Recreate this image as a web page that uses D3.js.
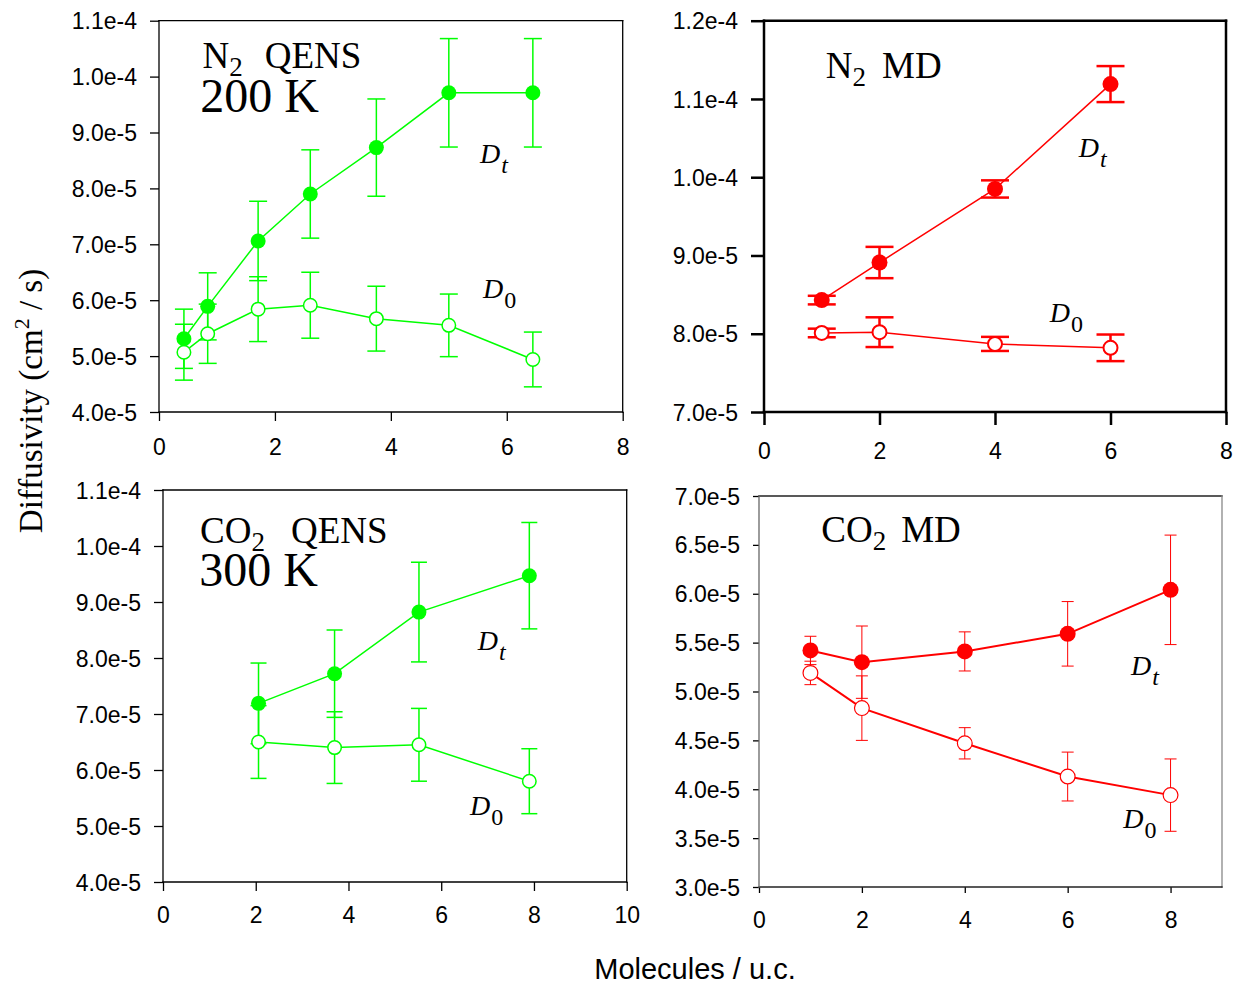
<!DOCTYPE html>
<html>
<head>
<meta charset="utf-8">
<script src="https://cdn.jsdelivr.net/npm/d3@7"></script>
<style>
  body { margin: 0; background: #fff; }
  svg { display: block; }
</style>
</head>
<body>
<div id="viz"></div>
<script>
// N2 QENS, 200 K
const n2QensLoading = [0.43, 0.84, 1.71, 2.61, 3.75, 5.00, 6.45];
const n2QensDt = [5.31e-5, 5.89e-5, 7.06e-5, 7.90e-5, 8.73e-5, 9.71e-5, 9.71e-5];
const n2QensDtErr = [0.53e-5, 0.60e-5, 0.71e-5, 0.79e-5, 0.87e-5, 0.97e-5, 0.97e-5];
const n2QensD0 = [5.07e-5, 5.40e-5, 5.84e-5, 5.91e-5, 5.67e-5, 5.55e-5, 4.94e-5];
const n2QensD0Err = [0.50e-5, 0.53e-5, 0.58e-5, 0.59e-5, 0.58e-5, 0.56e-5, 0.49e-5];

// N2 MD
const n2MdLoading = [1, 2, 4, 6];
const n2MdDt = [8.43e-5, 8.91e-5, 9.85e-5, 11.19e-5];
const n2MdDtErr = [0.055e-5, 0.20e-5, 0.11e-5, 0.23e-5];
const n2MdD0 = [8.01e-5, 8.02e-5, 7.87e-5, 7.82e-5];
const n2MdD0Err = [0.055e-5, 0.19e-5, 0.09e-5, 0.17e-5];

// CO2 QENS, 300 K
const co2QensLoading = [2.06, 3.70, 5.52, 7.90];
const co2QensDt = [7.19e-5, 7.72e-5, 8.82e-5, 9.47e-5];
const co2QensDtErr = [0.72e-5, 0.78e-5, 0.89e-5, 0.95e-5];
const co2QensD0 = [6.50e-5, 6.40e-5, 6.45e-5, 5.80e-5];
const co2QensD0Err = [0.65e-5, 0.64e-5, 0.65e-5, 0.58e-5];

// CO2 MD
const co2MdLoading = [1, 2, 4, 6, 8];
const co2MdDt = [5.42e-5, 5.30e-5, 5.41e-5, 5.59e-5, 6.04e-5];
const co2MdDtErr = [0.145e-5, 0.37e-5, 0.20e-5, 0.33e-5, 0.56e-5];
const co2MdD0 = [5.19e-5, 4.83e-5, 4.47e-5, 4.13e-5, 3.94e-5];
const co2MdD0Err = [0.12e-5, 0.33e-5, 0.16e-5, 0.25e-5, 0.37e-5];

// tick values
const loadingTicks8 = [0, 2, 4, 6, 8];
const loadingTicks10 = [0, 2, 4, 6, 8, 10];
const qensDiffTicks = [4e-5, 5e-5, 6e-5, 7e-5, 8e-5, 9e-5, 1.0e-4, 1.1e-4];
const n2MdDiffTicks = [7e-5, 8e-5, 9e-5, 1.0e-4, 1.1e-4, 1.2e-4];
const co2MdDiffTicks = [3.0e-5, 3.5e-5, 4.0e-5, 4.5e-5, 5.0e-5, 5.5e-5, 6.0e-5, 6.5e-5, 7.0e-5];

const canvasWidth = 1235;
const canvasHeight = 984;
const green = '#00ff00';
const red = '#ff0000';
const serif = "'Liberation Serif', 'Times New Roman', serif";
const sans = "'Liberation Sans', Arial, sans-serif";

const canvas = d3.select('#viz')
  .append('svg')
  .attr('width', canvasWidth)
  .attr('height', canvasHeight);

const zip = (xs, ys, es) => xs.map((x, i) => ({ x: x, y: ys[i], e: es[i] }));

const panels = [
  {
    left: 159, right: 622.7, top: 20.7, bottom: 412,
    xDomain: [0, 8], xTicks: loadingTicks8, yDomain: [4e-5, 1.1e-4], yTicks: qensDiffTicks,
    frameWidth: 1.3, frameColors: ['#000', '#000', '#000', '#000'],
    tickLen: 9, xPad: 18, color: green, lineWidth: 1.5, errWidth: 1.5, cap: 9, r: 7.5, openStroke: 1.5,
    dt: zip(n2QensLoading, n2QensDt, n2QensDtErr),
    d0: zip(n2QensLoading, n2QensD0, n2QensD0Err),
    title: { x: 0.75, y: 10.15e-5, main: 'N', sub: '2', rest: 'QENS', gap: 22 },
    temp: { x: 0.71, y: 9.37e-5, text: '200 K' },
    dtLabel: [5.54, 8.45e-5], d0Label: [5.59, 6.04e-5]
  },
  {
    left: 764, right: 1226, top: 20.7, bottom: 412,
    xDomain: [0, 8], xTicks: loadingTicks8, yDomain: [7e-5, 1.2e-4], yTicks: n2MdDiffTicks,
    frameWidth: 2.5, frameColors: ['#000', '#000', '#000', '#000'],
    tickLen: 13, xPad: 18, color: red, lineWidth: 1.5, errWidth: 2.5, cap: 14, r: 8, openStroke: 2,
    dt: zip(n2MdLoading, n2MdDt, n2MdDtErr),
    d0: zip(n2MdLoading, n2MdD0, n2MdD0Err),
    title: { x: 1.07, y: 11.27e-5, main: 'N', sub: '2', rest: 'MD', gap: 16 },
    dtLabel: [5.45, 10.26e-5], d0Label: [4.95, 8.15e-5]
  },
  {
    left: 163, right: 626.7, top: 490, bottom: 882,
    xDomain: [0, 10], xTicks: loadingTicks10, yDomain: [4e-5, 1.1e-4], yTicks: qensDiffTicks,
    frameWidth: 1.3, frameColors: ['#000', '#000', '#000', '#000'],
    tickLen: 9, xPad: 16, color: green, lineWidth: 1.5, errWidth: 1.5, cap: 8, r: 7.5, openStroke: 1.5,
    dt: zip(co2QensLoading, co2QensDt, co2QensDtErr),
    d0: zip(co2QensLoading, co2QensD0, co2QensD0Err),
    title: { x: 0.80, y: 10.05e-5, main: 'CO', sub: '2', rest: 'QENS', gap: 26 },
    temp: { x: 0.78, y: 9.29e-5, text: '300 K' },
    dtLabel: [6.79, 8.14e-5], d0Label: [6.62, 5.20e-5]
  },
  {
    left: 759, right: 1222, top: 496, bottom: 887,
    xDomain: [0, 9], xTicks: loadingTicks8, yDomain: [3e-5, 7e-5], yTicks: co2MdDiffTicks,
    frameWidth: 1.3, frameColors: ['#222', '#888', '#222', '#666'],
    tickLen: 6, xPad: 19, color: red, lineWidth: 2, errWidth: 1, cap: 6, r: 8, openStroke: 1.2,
    dt: zip(co2MdLoading, co2MdDt, co2MdDtErr),
    d0: zip(co2MdLoading, co2MdD0, co2MdD0Err),
    title: { x: 1.21, y: 6.53e-5, main: 'CO', sub: '2', rest: 'MD', gap: 15 },
    dtLabel: [7.23, 5.17e-5], d0Label: [7.08, 3.60e-5]
  }
];

function drawPanel(p) {
  const x = d3.scaleLinear().domain(p.xDomain).range([p.left, p.right]);
  const y = d3.scaleLinear().domain(p.yDomain).range([p.bottom, p.top]);
  const g = canvas.append('g');

  const xAxis = g.append('g')
    .attr('transform', `translate(0, ${p.bottom})`)
    .call(d3.axisBottom(x).tickValues(p.xTicks).tickSize(p.tickLen).tickPadding(p.xPad).tickFormat(d3.format('d')));
  const yAxis = g.append('g')
    .attr('transform', `translate(${p.left}, 0)`)
    .call(d3.axisLeft(y).tickValues(p.yTicks).tickSize(p.tickLen).tickPadding(13).tickFormat((d) => d.toExponential(1)));

  [xAxis, yAxis].forEach((a) => {
    a.select('.domain').remove();
    a.selectAll('line').attr('stroke', '#000').attr('stroke-width', p.frameWidth);
    a.selectAll('text').attr('fill', '#000').style('font-family', sans).style('font-size', '23px');
  });
  yAxis.selectAll('text').attr('dy', '0.35em');

  // frame: top, right, bottom, left
  const sides = [
    [p.left, p.top, p.right, p.top],
    [p.right, p.top, p.right, p.bottom],
    [p.left, p.bottom, p.right, p.bottom],
    [p.left, p.top, p.left, p.bottom]
  ];
  g.append('g').selectAll('line').data(sides)
    .enter().append('line')
      .attr('x1', (d) => d[0]).attr('y1', (d) => d[1])
      .attr('x2', (d) => d[2]).attr('y2', (d) => d[3])
      .attr('stroke', (d, i) => p.frameColors[i])
      .attr('stroke-width', p.frameWidth)
      .attr('stroke-linecap', 'square');

  const line = d3.line().x((d) => x(d.x)).y((d) => y(d.y));

  [p.dt, p.d0].forEach((series) => {
    const bars = g.append('g')
      .attr('stroke', p.color)
      .attr('stroke-width', p.errWidth)
      .selectAll('g').data(series)
      .enter().append('g');
    bars.append('line')
      .attr('x1', (d) => x(d.x)).attr('x2', (d) => x(d.x))
      .attr('y1', (d) => y(d.y - d.e)).attr('y2', (d) => y(d.y + d.e));
    bars.append('line')
      .attr('x1', (d) => x(d.x) - p.cap).attr('x2', (d) => x(d.x) + p.cap)
      .attr('y1', (d) => y(d.y + d.e)).attr('y2', (d) => y(d.y + d.e));
    bars.append('line')
      .attr('x1', (d) => x(d.x) - p.cap).attr('x2', (d) => x(d.x) + p.cap)
      .attr('y1', (d) => y(d.y - d.e)).attr('y2', (d) => y(d.y - d.e));
  });

  [p.dt, p.d0].forEach((series) => {
    g.append('path')
      .datum(series)
      .attr('d', line)
      .attr('fill', 'none')
      .attr('stroke', p.color)
      .attr('stroke-width', p.lineWidth);
  });

  g.append('g').selectAll('circle').data(p.d0)
    .enter().append('circle')
      .attr('cx', (d) => x(d.x)).attr('cy', (d) => y(d.y))
      .attr('r', p.r - p.openStroke / 2)
      .attr('fill', '#fff')
      .attr('stroke', p.color)
      .attr('stroke-width', p.openStroke);
  g.append('g').selectAll('circle').data(p.dt)
    .enter().append('circle')
      .attr('cx', (d) => x(d.x)).attr('cy', (d) => y(d.y))
      .attr('r', p.r)
      .attr('fill', p.color);

  // panel title with subscript
  const t = g.append('text')
    .attr('x', x(p.title.x)).attr('y', y(p.title.y))
    .style('font-family', serif).style('font-size', '37px').attr('fill', '#000');
  t.append('tspan').text(p.title.main);
  t.append('tspan').attr('dy', 8).style('font-size', '27px').text(p.title.sub);
  t.append('tspan').attr('dy', -8).attr('dx', p.title.gap).text(p.title.rest);

  if (p.temp) {
    g.append('text')
      .attr('x', x(p.temp.x)).attr('y', y(p.temp.y))
      .style('font-family', serif).style('font-size', '48px').attr('fill', '#000')
      .text(p.temp.text);
  }

  const dLabel = (pos, sub, subItalic) => {
    const lt = g.append('text')
      .attr('x', x(pos[0])).attr('y', y(pos[1]))
      .style('font-family', serif).style('font-size', '28px').attr('fill', '#000');
    lt.append('tspan').style('font-style', 'italic').text('D');
    lt.append('tspan').attr('dy', 10).attr('dx', 1)
      .style('font-size', '24px').style('font-style', subItalic ? 'italic' : 'normal')
      .text(sub);
  };
  dLabel(p.dtLabel, 't', true);
  dLabel(p.d0Label, '0', false);
}

panels.forEach(drawPanel);

// shared axis titles
const yTitle = canvas.append('text')
  .attr('transform', 'translate(42, 401) rotate(-90)')
  .attr('text-anchor', 'middle')
  .style('font-family', serif).style('font-size', '33px').attr('fill', '#000');
yTitle.append('tspan').text('Diffusivity (cm');
yTitle.append('tspan').attr('dy', -13).style('font-size', '22px').text('2');
yTitle.append('tspan').attr('dy', 13).text(' / s)');

canvas.append('text')
  .attr('x', 695).attr('y', 979)
  .attr('text-anchor', 'middle')
  .style('font-family', sans).style('font-size', '29px').attr('fill', '#000')
  .text('Molecules / u.c.');
</script>
</body>
</html>
